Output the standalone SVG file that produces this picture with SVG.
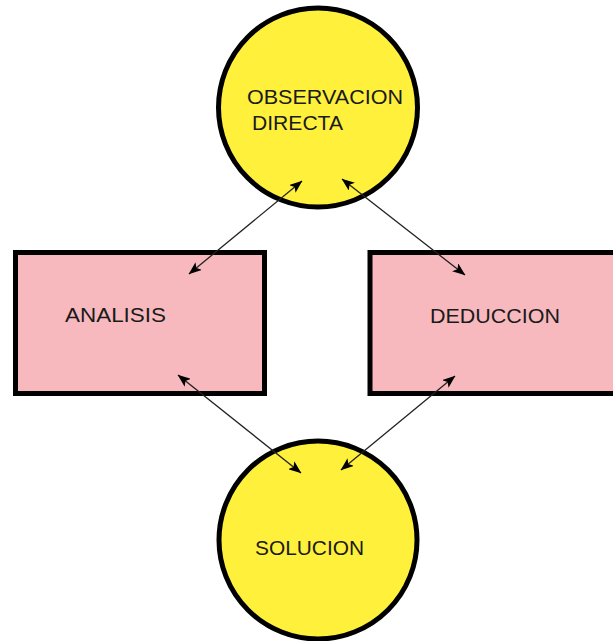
<svg xmlns="http://www.w3.org/2000/svg" width="613" height="641" viewBox="0 0 613 641">
  <style>
    .circle { fill: #FFF03C; stroke: #000; stroke-width: 5; }
    .box { fill: #F7B9BD; stroke: #000; stroke-width: 5; }
    .label { font-family: "Liberation Sans", Arial, sans-serif; font-size: 21px; fill: #1a1a1a; }
    .conn { stroke: #222; stroke-width: 1.3; fill: none; marker-start: url(#arrow); marker-end: url(#arrow); }
  </style>
  <defs>
    <marker id="arrow" viewBox="0 0 13 10" refX="12.5" refY="5" markerWidth="13" markerHeight="10" markerUnits="userSpaceOnUse" orient="auto-start-reverse">
      <path d="M0,0 L13,5 L0,10 L3,5 z" fill="#000"/>
    </marker>
  </defs>
  <rect width="613" height="641" fill="#fff"/>

  <g id="observacion">
    <circle class="circle" cx="318" cy="107.5" r="99.5"/>
    <text class="label" x="247" y="104" textLength="156" lengthAdjust="spacingAndGlyphs">OBSERVACION</text>
    <text class="label" x="252" y="130" textLength="91" lengthAdjust="spacingAndGlyphs">DIRECTA</text>
  </g>

  <g id="analisis">
    <rect class="box" x="15.5" y="252.5" width="249" height="141"/>
    <text class="label" x="65" y="322" textLength="101" lengthAdjust="spacingAndGlyphs">ANALISIS</text>
  </g>

  <g id="deduccion">
    <rect class="box" x="370" y="252.5" width="260" height="141"/>
    <text class="label" x="430" y="323" textLength="130" lengthAdjust="spacingAndGlyphs">DEDUCCION</text>
  </g>

  <g id="solucion">
    <circle class="circle" cx="318" cy="540" r="99"/>
    <text class="label" x="255" y="555" textLength="109" lengthAdjust="spacingAndGlyphs">SOLUCION</text>
  </g>

  <g id="connectors">
    <line class="conn" x1="189" y1="274" x2="302" y2="181"/>
    <line class="conn" x1="342" y1="179" x2="465" y2="275"/>
    <line class="conn" x1="178" y1="375" x2="301" y2="473"/>
    <line class="conn" x1="455" y1="376" x2="341" y2="470"/>
  </g>
</svg>
